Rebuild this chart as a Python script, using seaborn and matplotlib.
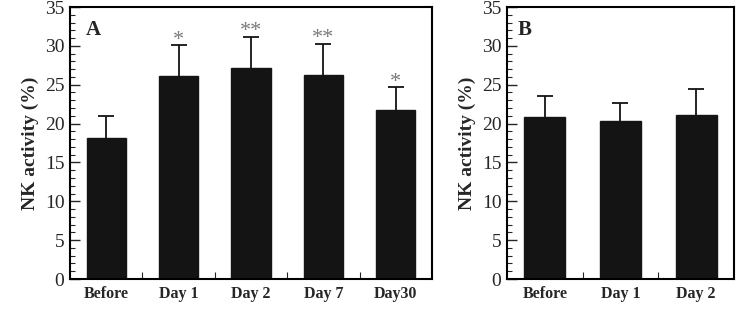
import matplotlib.pyplot as plt
import numpy as np
import pandas as pd
import seaborn as sns
from matplotlib.ticker import MultipleLocator, FixedLocator

sns.set_style('white')
plt.rcParams['font.family'] = ['Liberation Serif', 'DejaVu Serif']

# data
labels_a = ['Before', 'Day 1', 'Day 2', 'Day 7', 'Day30']
means_a = [18.2, 26.1, 27.1, 26.2, 21.8]
sd_a = [2.8, 4.0, 4.1, 4.1, 2.9]
stars_a = ['', '*', '**', '**', '*']

labels_b = ['Before', 'Day 1', 'Day 2']
means_b = [20.9, 20.3, 21.1]
sd_b = [2.6, 2.4, 3.4]

fig = plt.figure(figsize=(7.37, 3.10), dpi=100)
ax_a = fig.add_axes([70 / 737, 31 / 310, 362 / 737, 272 / 310])
ax_b = fig.add_axes([507 / 737, 31 / 310, 227 / 737, 272 / 310])


def draw_panel(ax, labels, means, sd, letter, width, stars=None):
    df = pd.DataFrame({'group': labels, 'value': means})
    sns.barplot(data=df, x='group', y='value', ax=ax, color='#141414',
                saturation=1, width=width, edgecolor='#141414', errorbar=None)
    x = np.arange(len(labels))
    eb = ax.errorbar(x, means, yerr=[np.zeros(len(sd)), sd], fmt='none',
                     ecolor='#141414', elinewidth=1.3, capsize=6, capthick=1.3)
    # keep only the upper caps
    eb[1][0].remove()
    if stars:
        for xi, m, s, st in zip(x, means, sd, stars):
            if st:
                ax.text(xi, m + s + 0.6, st, ha='center', va='center',
                        fontsize=16, color='#7a7a7a')
    ax.set_xlim(-0.5, len(labels) - 0.5)
    ax.set_ylim(0, 35)
    ax.yaxis.set_major_locator(MultipleLocator(5))
    ax.yaxis.set_minor_locator(MultipleLocator(1))
    ax.xaxis.set_minor_locator(FixedLocator(np.arange(0.5, len(labels) - 1, 1)))
    ax.tick_params(axis='y', which='major', direction='in', length=7,
                   width=1, labelsize=14, left=True, pad=4)
    ax.tick_params(axis='y', which='minor', direction='in', length=3.5,
                   width=0.8, left=True)
    ax.tick_params(axis='x', which='major', length=0, labelsize=11.5, pad=5)
    ax.tick_params(axis='x', which='minor', direction='in', length=5,
                   width=0.8, bottom=True)
    for lab in ax.get_xticklabels():
        lab.set_fontweight('bold')
    for sp in ax.spines.values():
        sp.set_visible(True)
        sp.set_color('black')
        sp.set_linewidth(1.5)
    ax.set_xlabel('')
    ax.set_ylabel('NK activity (%)', fontsize=14, fontweight='bold', labelpad=4)
    ax.text(0.045, 0.915, letter, transform=ax.transAxes, fontsize=15,
            fontweight='bold', ha='left', va='center')


draw_panel(ax_a, labels_a, means_a, sd_a, 'A', 0.54, stars_a)
draw_panel(ax_b, labels_b, means_b, sd_b, 'B', 0.54)

plt.savefig('out.png', dpi=100)
